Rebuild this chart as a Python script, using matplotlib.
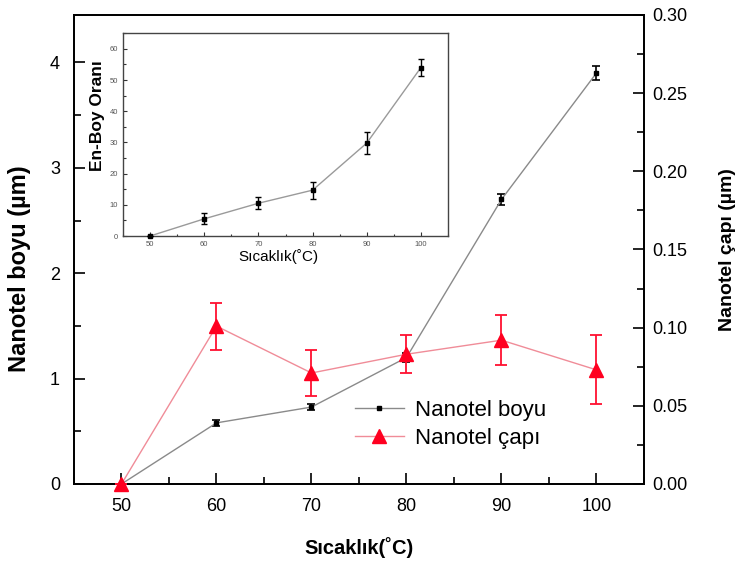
import matplotlib
matplotlib.use('Agg')
import matplotlib.pyplot as plt
from matplotlib.ticker import MultipleLocator, FormatStrFormatter

plt.rcParams['font.family'] = ['Liberation Sans', 'DejaVu Sans']

# data
temp = [50, 60, 70, 80, 90, 100]
boy = [0.0, 0.58, 0.73, 1.20, 2.70, 3.90]          # Nanotel boyu (um)
boy_err = [0.0, 0.03, 0.03, 0.04, 0.05, 0.065]
cap = [0.0, 0.101, 0.071, 0.083, 0.092, 0.073]     # Nanotel capi (um)
cap_err = [0.0, 0.015, 0.015, 0.012, 0.016, 0.022]
oran = [0.0, 5.5, 10.5, 14.7, 29.8, 54.0]          # En-Boy orani
oran_err = [0.0, 1.8, 2.0, 2.7, 3.4, 2.8]

fig = plt.figure(figsize=(7.37, 5.68), dpi=100)
ax = fig.add_axes([0.1004, 0.1479, 0.7734, 0.8257])
ax2 = ax.twinx()

ax.errorbar(temp, boy, yerr=boy_err, color='#8a8a8a', lw=1.0, marker='s', ms=3,
            mfc='black', mec='black', ecolor='black', elinewidth=1.2, capsize=3,
            capthick=1.2, clip_on=False, zorder=3)
ax2.errorbar(temp, cap, yerr=cap_err, color='#f08c98', lw=1.0, marker='^', ms=10,
             mfc='#ff0020', mec='#ff0020', ecolor='#ff1030', elinewidth=1.3, capsize=4,
             capthick=1.3, clip_on=False, zorder=3)

ax.set_xlim(45, 105)
ax.set_ylim(0, 4.45)
ax2.set_ylim(0, 0.30)
ax.xaxis.set_major_locator(MultipleLocator(10))
ax.xaxis.set_minor_locator(MultipleLocator(5))
ax.yaxis.set_major_locator(MultipleLocator(1))
ax.yaxis.set_minor_locator(MultipleLocator(0.5))
ax2.yaxis.set_major_locator(MultipleLocator(0.05))
ax2.yaxis.set_minor_locator(MultipleLocator(0.025))
ax2.yaxis.set_major_formatter(FormatStrFormatter('%.2f'))

for a in (ax, ax2):
    a.tick_params(which='both', direction='in', labelsize=13, width=1.2)
    a.tick_params(which='major', length=8)
    a.tick_params(which='minor', length=5)
    for s in a.spines.values():
        s.set_linewidth(1.3)
ax.tick_params(axis='x', pad=10)
ax.tick_params(axis='y', pad=10)
ax2.tick_params(axis='y', pad=6)

ax.set_xlabel('Sıcaklık(˚C)', fontsize=14.5, fontweight='bold')
ax.xaxis.set_label_coords(0.5, -0.113)
ax.set_ylabel('Nanotel boyu (µm)', fontsize=17, fontweight='bold')
ax.yaxis.set_label_coords(-0.075, 0.46)
ax2.set_ylabel('Nanotel çapı (µm)', fontsize=14, fontweight='bold')
ax2.yaxis.set_label_coords(1.131, 0.5)

# legend
h1 = ax.plot([], [], color='#8a8a8a', lw=1.0, marker='s', ms=3, mfc='black', mec='black')[0]
h2 = ax.plot([], [], color='#f08c98', lw=1.0, marker='^', ms=10, mfc='#ff0020', mec='#ff0020')[0]
ax2.legend([h1, h2], ['Nanotel boyu', 'Nanotel çapı'], loc='upper left',
           bbox_to_anchor=(0.458, 0.222), frameon=False, fontsize=16, handlelength=2.2,
           handletextpad=0.5, labelspacing=0.3)

# inset
axi = fig.add_axes([0.1669, 0.5845, 0.441, 0.357])
axi.errorbar(temp, oran, yerr=oran_err, color='#9a9a9a', lw=1.0, marker='s', ms=3.5,
             mfc='black', mec='black', ecolor='black', elinewidth=1.0, capsize=2.5,
             capthick=1.0, clip_on=False, zorder=3)
axi.set_xlim(45, 105)
axi.set_ylim(0, 65)
axi.xaxis.set_major_locator(MultipleLocator(10))
axi.xaxis.set_minor_locator(MultipleLocator(5))
axi.yaxis.set_major_locator(MultipleLocator(10))
axi.yaxis.set_minor_locator(MultipleLocator(5))
axi.tick_params(which='both', direction='in', labelsize=5.5, labelcolor='#555555',
                color='#333333', width=0.8)
axi.tick_params(which='major', length=3)
axi.tick_params(which='minor', length=1.8)
for s in axi.spines.values():
    s.set_linewidth(1.0)
    s.set_color('#444444')
axi.set_xlabel('Sıcaklık(˚C)', fontsize=11)
axi.xaxis.set_label_coords(0.477, -0.064)
axi.set_ylabel('En-Boy Oranı', fontsize=12.5, fontweight='bold')
axi.yaxis.set_label_coords(-0.055, 0.596)

fig.savefig('out.png', dpi=100)
